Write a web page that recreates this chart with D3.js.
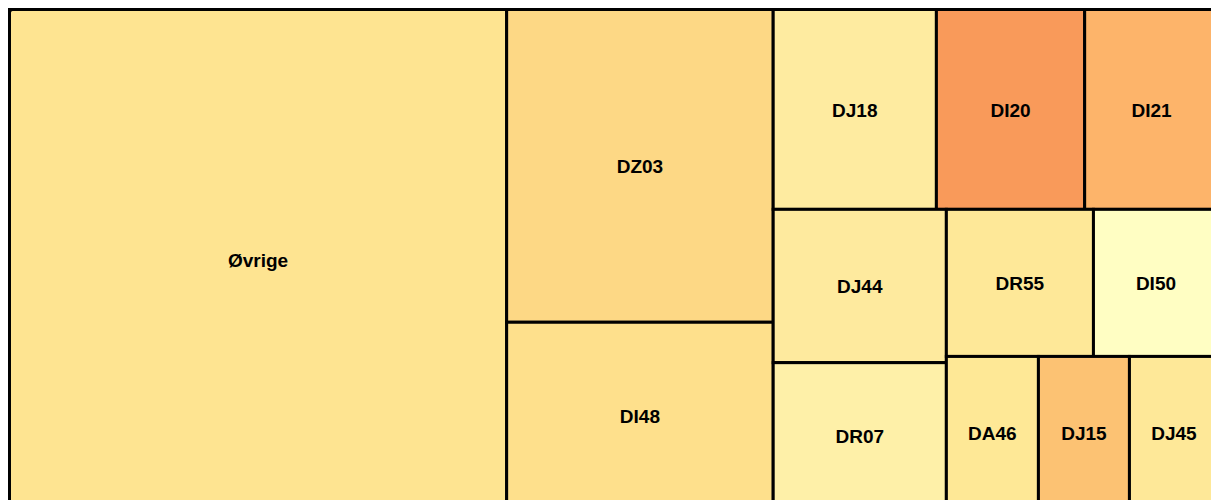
<!DOCTYPE html>
<html>
<head>
<meta charset="utf-8">
<script src="https://cdn.jsdelivr.net/npm/d3@7"></script>
<style>
  html, body { margin: 0; padding: 0; background: #ffffff; overflow: hidden; }
  svg { display: block; }
</style>
</head>
<body>
<script>
// Data (area estimates)
const categories = ["Øvrige", "DZ03", "DI48", "DJ18", "DI20", "DI21", "DJ44", "DR07", "DR55", "DI50", "DA46", "DJ15", "DJ45"];
const values     = [249500, 83840, 49930, 32800, 29800, 26900, 26700, 25400, 21760, 18500, 14080, 13920, 13620];
const fillColors = ["#fee491", "#fdd885", "#fee08c", "#feeba0", "#f99a5a", "#fdb46a", "#feea9e", "#fef0a8", "#fee898", "#fffec3", "#fee896", "#fcc273", "#fee898"];

const W = 1211, H = 500;
const svg = d3.select("body").append("svg").attr("width", W).attr("height", H);

const data = { name: "root", children: categories.map((c, i) => ({ name: c, value: values[i], color: fillColors[i] })) };
const root = d3.hierarchy(data).sum(d => d.value || 0).sort((a, b) => b.value - a.value);

const ox = 9.5, oy = 9.5;
const TW = 1209, TH = 499;
d3.treemap()
  .tile(d3.treemapSquarify.ratio(1))
  .size([TW, TH])
  .paddingInner(0)(root);

const g = svg.append("g").attr("transform", `translate(${ox},${oy})`);

const cell = g.selectAll("g.cell").data(root.leaves()).join("g").attr("class", "cell");
cell.append("rect")
  .attr("x", d => d.x0).attr("y", d => d.y0)
  .attr("width", d => d.x1 - d.x0).attr("height", d => d.y1 - d.y0)
  .attr("fill", d => d.data.color)
  .attr("stroke", "#000").attr("stroke-width", 3);

cell.append("text")
  .attr("x", d => (d.x0 + d.x1) / 2)
  .attr("y", d => (d.y0 + d.y1) / 2 + 1)
  .attr("text-anchor", "middle")
  .attr("dominant-baseline", "central")
  .attr("font-family", "Liberation Sans, Arial, sans-serif")
  .attr("font-weight", "bold")
  .attr("font-size", 19)
  .attr("fill", "#000")
  .text(d => d.data.name);

// outer border with rounded corners
g.append("rect")
  .attr("x", 0).attr("y", 0).attr("width", TW).attr("height", TH)
  .attr("rx", 3).attr("fill", "none").attr("stroke", "#000").attr("stroke-width", 3);
</script>
</body>
</html>
